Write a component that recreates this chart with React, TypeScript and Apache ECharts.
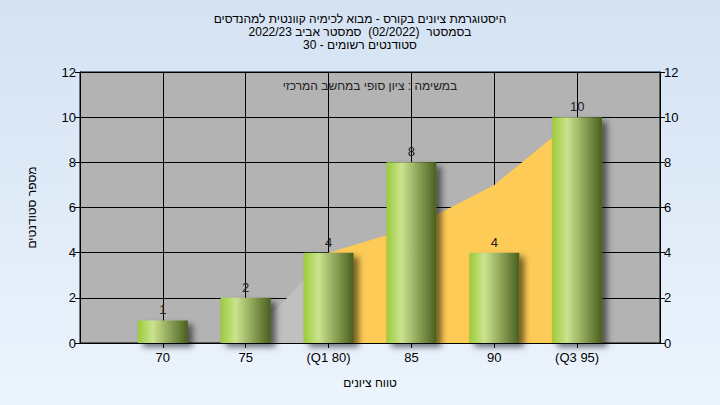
import React, { useEffect, useRef } from 'react';
import * as echarts from 'echarts';

const titleLines = [
  'היסטוגרמת ציונים בקורס - מבוא לכימיה קוונטית למהנדסים',
  'בסמסטר  (02/2022)  סמסטר אביב 2022/23',
  'סטודנטים רשומים - 30',
];
const innerNote = 'במשימה : ציון סופי במחשב המרכזי';
const xAxisName = 'טווח ציונים';
const yAxisName = 'מספר סטודנטים';

const xTicks = [70, 75, 80, 85, 90, 95];
const xTickLabels = ['70', '75', '(Q1 80)', '85', '90', '(Q3 95)'];
const barCounts = [1, 2, 4, 8, 4, 10];
const lowerAreaX = [75, 80];
const lowerAreaY = [0, 4];
const iqrAreaX = [80, 85, 90, 95];
const iqrAreaY = [4, 5.1, 7, 10];

const FONT = 'Liberation Sans, Arial, sans-serif';

export default function App() {
  const ref = useRef<HTMLDivElement>(null);
  useEffect(() => {
    document.body.style.margin = '0';
    const chart = echarts.init(ref.current!, null, { renderer: 'svg' });
    const barGradient = new echarts.graphic.LinearGradient(0, 0, 1, 0, [
      { offset: 0, color: '#9ccb3a' },
      { offset: 0.3, color: '#cbe38e' },
      { offset: 1, color: '#4a5f1e' },
    ]);
    const yAxisCommon = {
      type: 'value',
      min: 0,
      max: 12,
      interval: 2,
      axisLine: { show: true, lineStyle: { color: '#000', width: 1 } },
      axisTick: { show: true, length: 5, lineStyle: { color: '#000' } },
      axisLabel: { color: '#000', fontSize: 13, fontFamily: FONT, margin: 4 },
    };
    chart.setOption({
      animation: false,
      backgroundColor: new echarts.graphic.LinearGradient(0, 0, 0, 1, [
        { offset: 0, color: '#d4e2f3' },
        { offset: 1, color: '#ecf4fd' },
      ]),
      textStyle: { fontFamily: FONT },
      title: {
        text: titleLines.join('\n'),
        left: 'center',
        top: 7,
        textStyle: { fontSize: 12, fontWeight: 'normal', color: '#000', lineHeight: 13, fontFamily: FONT },
      },
      graphic: [
        {
          type: 'text',
          x: 370,
          y: 86,
          style: {
            text: innerNote,
            fill: '#222',
            fontSize: 12,
            fontFamily: FONT,
            textAlign: 'center',
            textVerticalAlign: 'middle',
          },
          z: 10,
        },
      ],
      grid: {
        left: 80,
        right: 60,
        top: 72,
        bottom: 62,
        show: true,
        backgroundColor: '#b3b3b3',
        borderColor: '#000',
        borderWidth: 1,
      },
      xAxis: {
        type: 'value',
        min: 65,
        max: 100,
        interval: 5,
        name: xAxisName,
        nameLocation: 'middle',
        nameGap: 34,
        nameTextStyle: { color: '#000', fontSize: 12, fontFamily: FONT },
        axisLine: { show: true, onZero: false, lineStyle: { color: '#000' } },
        axisTick: { show: true, length: 5, lineStyle: { color: '#000' }, customValues: xTicks },
        axisLabel: {
          color: '#000',
          fontSize: 13,
          fontFamily: FONT,
          margin: 8,
          customValues: xTicks,
          formatter: (v: number) => {
            const i = xTicks.indexOf(v);
            return i >= 0 ? xTickLabels[i] : '';
          },
        },
        splitLine: { show: true, lineStyle: { color: '#000', width: 1 } },
      },
      yAxis: [
        {
          ...yAxisCommon,
          position: 'left',
          name: yAxisName,
          nameLocation: 'middle',
          nameGap: 42,
          nameRotate: 90,
          nameTextStyle: { color: '#000', fontSize: 12, fontFamily: FONT },
          splitLine: { show: true, lineStyle: { color: '#000', width: 1 } },
        },
        {
          ...yAxisCommon,
          position: 'right',
          splitLine: { show: false },
        },
      ],
      series: [
        {
          type: 'line',
          data: lowerAreaX.map((x, i) => [x, lowerAreaY[i]]),
          showSymbol: false,
          symbol: 'none',
          lineStyle: { width: 0 },
          areaStyle: { color: '#c0c0c0', opacity: 1 },
          z: 2,
          silent: true,
        },
        {
          type: 'line',
          data: iqrAreaX.map((x, i) => [x, iqrAreaY[i]]),
          showSymbol: false,
          symbol: 'none',
          lineStyle: { width: 0 },
          areaStyle: { color: '#fecb56', opacity: 1 },
          z: 2,
          silent: true,
        },
        {
          type: 'bar',
          data: xTicks.map((x, i) => [x, barCounts[i]]),
          barWidth: 50,
          z: 4,
          itemStyle: {
            color: barGradient,
            shadowColor: 'rgba(0,0,0,0.55)',
            shadowBlur: 6,
            shadowOffsetX: 5,
            shadowOffsetY: 4,
          },
          label: {
            show: true,
            position: 'top',
            distance: 4,
            color: '#222',
            fontSize: 13,
            fontFamily: FONT,
          },
        },
      ],
    });
    return () => chart.dispose();
  }, []);
  return <div ref={ref} style={{ width: 720, height: 405 }} />;
}
